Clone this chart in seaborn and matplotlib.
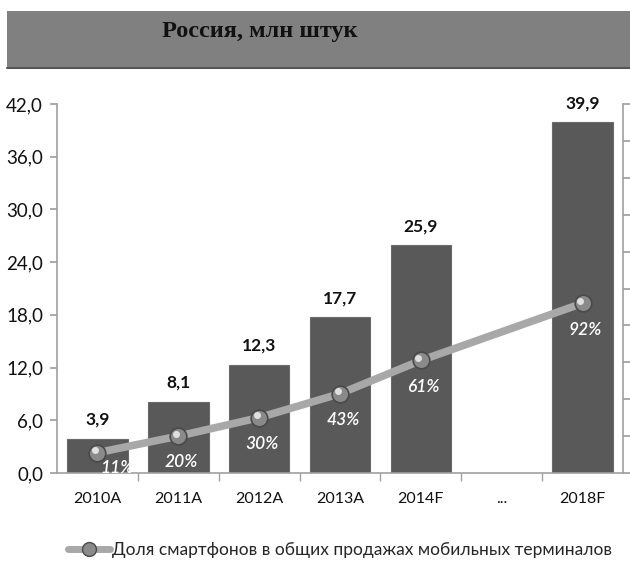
import matplotlib
matplotlib.use("Agg")
import matplotlib.pyplot as plt
import seaborn as sns
import pandas as pd
import numpy as np
from matplotlib.patches import Rectangle
from matplotlib.lines import Line2D

categories = ["2010A", "2011A", "2012A", "2013A", "2014F", "...", "2018F"]
bar_cats = ["2010A", "2011A", "2012A", "2013A", "2014F", "2018F"]
sales = [3.9, 8.1, 12.3, 17.7, 25.9, 39.9]
share = [0.11, 0.20, 0.30, 0.43, 0.61, 0.92]
share_labels = ["11%", "20%", "30%", "43%", "61%", "92%"]
sales_labels = ["3,9", "8,1", "12,3", "17,7", "25,9", "39,9"]
yticks = [0, 6, 12, 18, 24, 30, 36, 42]
title = "Россия, млн штук"
legend_label = "Доля смартфонов в общих продажах мобильных терминалов"

sns.set_theme(style="white")
plt.rcParams["font.family"] = ["Lato", "DejaVu Sans"]

fig = plt.figure(figsize=(6.3, 5.68), dpi=100)
ax = fig.add_axes([57/630, 1-473/568, (623-57)/630, (473-104)/568])

df = pd.DataFrame({"cat": bar_cats, "val": sales})
sns.barplot(data=df, x="cat", y="val", order=categories, ax=ax,
            color="#595959", width=0.75, saturation=1,
            edgecolor="#6a6a6a", linewidth=0.8)

ax.set_ylim(0, 42)
ax.set_xlim(-0.5, len(categories) - 0.5)
ax.set_yticks(yticks)
ax.set_yticklabels([f"{v:.1f}".replace(".", ",") for v in yticks], fontsize=13.5,
                   color="#111111")
ax.set_xlabel("")
ax.set_ylabel("")
ax.set_xticks(range(len(categories)))
ax.set_xticklabels(categories, fontsize=11.5, color="#111111")
ax.tick_params(axis="x", length=0, pad=14)
ax.tick_params(axis="y", length=5, color="#a0a0a0", direction="out", left=True, pad=5)
ax.set_xticks(np.arange(0.5, len(categories) - 0.5, 1), minor=True)
ax.tick_params(axis="x", which="minor", length=6, color="#a0a0a0", bottom=True, direction="out")
for s in ["top", "right"]:
    ax.spines[s].set_visible(False)
for s in ["left", "bottom"]:
    ax.spines[s].set_color("#a0a0a0")
    ax.spines[s].set_linewidth(1.2)

for c, v, lab in zip(bar_cats, sales, sales_labels):
    x = categories.index(c)
    ax.annotate(lab, (x, v), xytext=(0, 8), textcoords="offset points",
                ha="center", va="bottom", fontsize=12.5, fontweight="bold", color="#111111")

ax2 = ax.twinx()
xpos = [categories.index(c) for c in bar_cats]
ldf = pd.DataFrame({"x": xpos, "y": share})
sns.lineplot(data=ldf, x="x", y="y", ax=ax2, color="#a8a8a8", linewidth=5.5,
             marker="o", markersize=12, markerfacecolor="#8a8a8a",
             markeredgecolor="#4a4a4a", markeredgewidth=1.2, zorder=5)
ax2.plot(np.array(xpos) - 0.03, np.array(share) + 0.012, "o", markersize=4,
         color="#e0e0e0", zorder=6)
ax2.set_ylim(0, 2.0)
ax2.set_yticks(np.arange(0, 2.01, 0.2))
ax2.set_yticklabels([])
ax2.set_ylabel("")
ax2.set_xlabel("")
ax2.tick_params(axis="y", length=5, color="#a0a0a0", direction="out", right=True)
for s in ["top", "left", "bottom"]:
    ax2.spines[s].set_visible(False)
ax2.spines["right"].set_color("#a0a0a0")
ax2.spines["right"].set_linewidth(1.2)
ax2.set_xlim(-0.5, len(categories) - 0.5)

for i, (x, y, lab) in enumerate(zip(xpos, share, share_labels)):
    off = (14, -11) if i == 0 else (2, -19)
    ax2.annotate(lab, (x, y), xytext=off, textcoords="offset points",
                 ha="center", va="center", fontsize=12.5, fontstyle="italic",
                 fontweight="semibold", color="white", zorder=7)

fig.patches.append(Rectangle((7/630, 1-68/568), 1-7/630, 57/568,
                             transform=fig.transFigure, facecolor="#808080",
                             edgecolor="none", zorder=0))
fig.lines.append(Line2D([7/630, 1], [1-68/568, 1-68/568], transform=fig.transFigure,
                        color="#555555", linewidth=1.5))
fig.text(260/630, 1-31/568, title, ha="center", va="center", fontsize=17.5,
         fontweight="bold", family=["Liberation Serif", "DejaVu Serif"], color="#111111")

handle = Line2D([], [], color="#a8a8a8", linewidth=5, marker="o", markersize=10,
                markerfacecolor="#8a8a8a", markeredgecolor="#4a4a4a")
fig.legend([handle], [legend_label], loc="center", bbox_to_anchor=(340/630, 1-550/568),
           frameon=False, fontsize=12.5, handlelength=2.4, handletextpad=0.1)

fig.savefig("out.png", dpi=100)
